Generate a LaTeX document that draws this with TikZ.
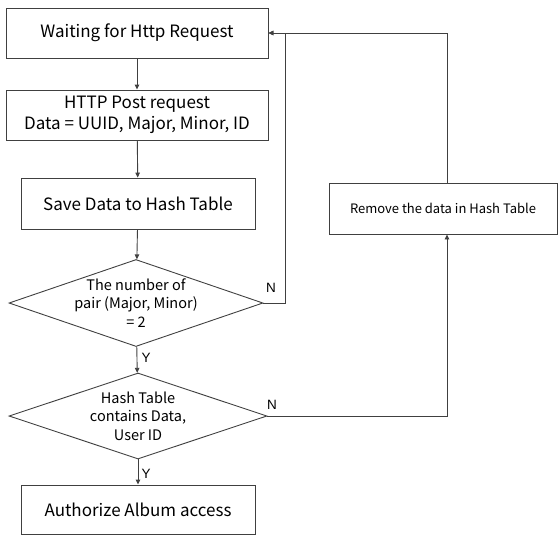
\documentclass[tikz,border=0pt]{standalone}
\usepackage{fontspec}
\setmainfont{Noto Sans CJK KR}
\newfontfamily\labfont{Liberation Sans}
\usetikzlibrary{shapes.geometric,arrows.meta}
\definecolor{linec}{HTML}{404040}
\begin{document}
\begin{tikzpicture}[x=1pt,y=-1pt,
  line/.style={draw=linec, line width=0.9pt},
  stepbox/.style={draw=linec, line width=0.9pt, rectangle, inner sep=0pt, align=center, font=\fontsize{17}{21}\selectfont},
  decbox/.style={draw=linec, line width=0.9pt, diamond, inner sep=0pt},
  dectext/.style={align=center, font=\fontsize{14.5}{18.5}\selectfont},
  arr/.style={line, -{Triangle[length=5pt,width=4.5pt]}},
  yn/.style={font=\labfont\fontsize{13.5}{16}\selectfont, inner sep=0pt, text=black}
]
\useasboundingbox (0,0) rectangle (559,536);
\node[stepbox, minimum width=262pt, minimum height=50pt] (b1) at (137,33) {Waiting for Http Request};
\node[stepbox, minimum width=262pt, minimum height=50pt] (b2) at (137,115) {HTTP Post request\\Data = UUID, Major, Minor, ID};
\node[stepbox, minimum width=234pt, minimum height=51pt] (b3) at (138,203.5) {Save Data to Hash Table};
\node[decbox, minimum width=254pt, minimum height=87pt, aspect=2.92,
  label={[dectext]center:The number of\\pair (Major, Minor)\\= 2}] (d1) at (136,303) {};
\node[decbox, minimum width=258pt, minimum height=86pt, aspect=3,
  label={[dectext]center:Hash Table\\contains Data,\\User ID}] (d2) at (138,416) {};
\node[stepbox, minimum width=234pt, minimum height=49pt] (b4) at (138,509.5) {Authorize Album access};
\node[stepbox, minimum width=228pt, minimum height=51pt, font=\fontsize{13}{16}\selectfont] (rm) at (443,208.5) {Remove the data in Hash Table};
\coordinate (c1) at (285,33);
\coordinate (c2) at (447,33);
\coordinate (c3) at (447,416);
\draw[arr] (b1) -- (b2);
\draw[arr] (b2) -- (b3);
\draw[arr] (b3) -- (d1);
\draw[arr] (d1) -- (d2);
\draw[arr] (d2) -- (b4);
\draw[arr] (d1.east) -| (c1) -- (b1.east);
\draw[arr] (rm.north -| c2) -- (c2) -- (b1.east);
\draw[arr] (d2.east) -- (c3) -- (rm.south -| c3);
\node[yn] (n1) at (271,288) {N};
\node[yn] (n2) at (272,405) {N};
\node[yn] (y1) at (146,358) {Y};
\node[yn] (y2) at (146,474) {Y};
\end{tikzpicture}
\end{document}
